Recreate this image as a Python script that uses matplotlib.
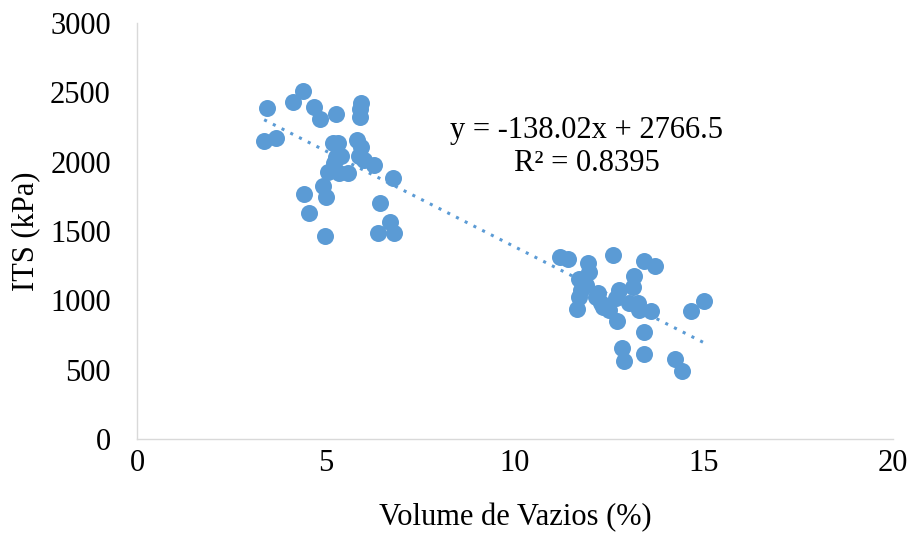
import numpy as np
import matplotlib.pyplot as plt

plt.rcParams['font.family'] = ['Liberation Serif', 'DejaVu Serif']

# Volume de vazios (%) and ITS (kPa)
vv = [3.44, 3.36, 3.68, 4.13, 4.39, 4.68, 4.84, 5.26, 5.93, 5.90, 5.90,
      5.19, 5.32, 5.82, 5.93, 5.26, 5.40, 5.21, 5.87, 6.01, 6.27, 5.05,
      5.34, 5.58, 6.77, 4.42, 4.92, 5.00, 4.55, 4.97, 6.43, 6.69, 6.38, 6.80,
      11.19, 11.40, 12.59, 11.93, 13.41, 13.70, 11.96, 13.15, 11.69, 11.88,
      13.12, 12.75, 11.69, 12.14, 12.67, 13.02, 13.25, 12.33, 12.49, 13.28,
      13.60, 11.64, 12.70, 13.41, 14.66, 15.00, 12.83, 12.88, 13.41, 14.23,
      14.42, 11.75, 12.20, 12.28]
its = [2386, 2149, 2170, 2430, 2509, 2394, 2307, 2343, 2422, 2379, 2322,
       2134, 2134, 2156, 2105, 2033, 2040, 1990, 2040, 2012, 1975, 1925,
       1918, 1918, 1882, 1766, 1824, 1745, 1629, 1464, 1702, 1565, 1485, 1485,
       1312, 1298, 1327, 1269, 1283, 1247, 1204, 1175, 1154, 1110,
       1096, 1074, 1024, 1024, 1017, 981, 981, 952, 930, 930,
       923, 937, 851, 771, 923, 995, 656, 562, 613, 577,
       490, 1074, 1053, 981]

slope = -138.02
intercept = 2766.5

fig = plt.figure(figsize=(9.09, 5.35), dpi=100)
ax = fig.add_axes([0.151, 0.179, 0.831, 0.778])

ax.scatter(vv, its, s=150, color='#5B9BD5', zorder=3, linewidths=0)

xt = np.array([min(vv), max(vv)])
ax.plot(xt, slope * xt + intercept, color='#5B9BD5', linestyle=(0, (1, 2.2)),
        linewidth=2.2, zorder=2)

ax.text(11.9, 2228, 'y = -138.02x + 2766.5', ha='center', va='center', fontsize=22)
ax.text(11.9, 1990, 'R² = 0.8395', ha='center', va='center', fontsize=22)

ax.set_xlim(0, 20)
ax.set_ylim(0, 3000)
ax.set_xticks([0, 5, 10, 15, 20])
ax.set_yticks([0, 500, 1000, 1500, 2000, 2500, 3000])
ax.tick_params(length=0, labelsize=22)
ax.tick_params(axis='y', pad=19)
ax.tick_params(axis='x', pad=7)
for s in ['top', 'right']:
    ax.spines[s].set_visible(False)
for s in ['left', 'bottom']:
    ax.spines[s].set_color('#D9D9D9')
    ax.spines[s].set_linewidth(1)

ax.set_xlabel('Volume de Vazios (%)', fontsize=22)
ax.set_ylabel('ITS (kPa)', fontsize=22)
ax.xaxis.set_label_coords(0.5, -0.152)
ax.yaxis.set_label_coords(-0.128, 0.5)

fig.savefig('out.png', dpi=100)
